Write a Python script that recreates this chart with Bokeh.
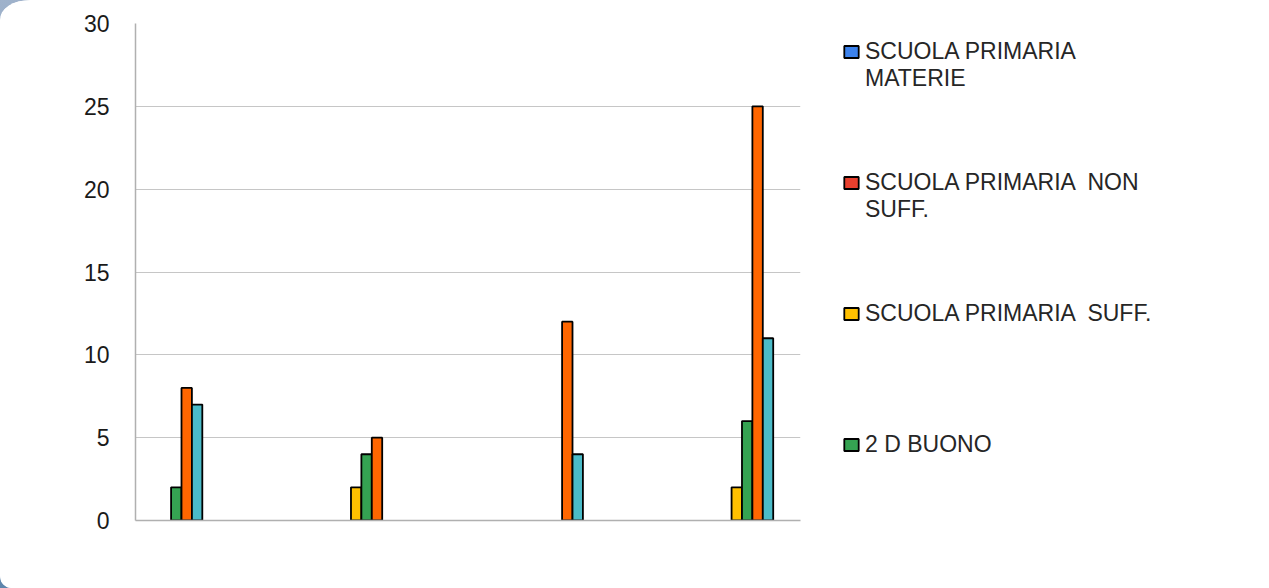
import math
from bokeh.plotting import figure
from bokeh.layouts import column
from bokeh.models import Legend, LegendItem, FixedTicker
from bokeh.embed import file_html
from bokeh.resources import INLINE

# ---- data ----
groups = [0, 1, 2, 3]
suff = [0, 2, 0, 2]          # yellow bars
buono = [2, 4, 0, 6]         # green bars
serie5 = [8, 5, 12, 25]      # orange bars
serie6 = [7, 0, 4, 11]       # cyan bars
bar_series = [suff, buono, serie5, serie6]
bar_colors = ["#FFC000", "#35A352", "#FF6600", "#4BBBC8"]

legend_labels = ["SCUOLA PRIMARIA\nMATERIE", "SCUOLA PRIMARIA  NON\nSUFF.",
                 "SCUOLA PRIMARIA  SUFF.", "2 D BUONO"]
legend_colors = ["#3C82EC", "#E8402E", "#FFC000", "#35A352"]
y_ticks = [0, 5, 10, 15, 20, 25, 30]

FONT = "Liberation Sans"
BAR_W = 0.0547
offsets = [-1.5, -0.5, 0.5, 1.5]

p = figure(width=1269, height=588, frame_width=665, frame_height=497,
           x_range=(-0.2417, 3.2528), y_range=(0, 30),
           output_backend="svg", toolbar_location=None,
           min_border_left=135, min_border_right=469,
           min_border_top=23, min_border_bottom=68,
           styles={"border-radius": "30px 30px 14px 12px / 20px 16px 16px 12px",
                   "overflow": "hidden", "background-color": "white"})
p.outline_line_color = None
p.background_fill_color = "white"
p.border_fill_color = "white"

p.xgrid.visible = False
p.ygrid.grid_line_color = "#C6C6C6"
p.ygrid.grid_line_width = 1
p.yaxis.ticker = FixedTicker(ticks=y_ticks)
p.yaxis.major_tick_out = 0
p.yaxis.major_tick_in = 0
p.yaxis.minor_tick_out = 0
p.yaxis.minor_tick_in = 0
p.yaxis.axis_line_color = "#B0B0B0"
p.yaxis.axis_line_width = 1.5
p.yaxis.major_label_standoff = 26
p.yaxis.major_label_text_font = FONT
p.yaxis.major_label_text_font_size = "23px"
p.yaxis.major_label_text_color = "#1A1A1A"

p.xaxis.ticker = FixedTicker(ticks=[])
p.xaxis.major_tick_out = 0
p.xaxis.minor_tick_out = 0
p.xaxis.axis_line_color = "#B0B0B0"
p.xaxis.axis_line_width = 1.5
p.xaxis.major_label_text_font_size = "0px"

for vals, col, off in zip(bar_series, bar_colors, offsets):
    xs = [g + off * BAR_W for g, v in zip(groups, vals) if v > 0]
    tops = [v for v in vals if v > 0]
    p.vbar(x=xs, top=tops, width=BAR_W, bottom=0, fill_color=col,
           line_color="black", line_width=1.8)

# legend: the marker is centred on the label block, so each label is padded
# to three lines with its first text line in the middle
items = []
for lab, col in zip(legend_labels, legend_colors):
    r = p.vbar(x=[math.nan], top=[math.nan], width=BAR_W, fill_color=col,
               line_color="black", line_width=1.8)
    parts = lab.split("\n")
    if len(parts) == 1:
        parts.append(" ")
    items.append(LegendItem(label="\n".join([" "] + parts), renderers=[r]))

leg = Legend(items=items, location=(42, 35), padding=0, margin=0,
             border_line_color=None, background_fill_color=None,
             glyph_width=18, glyph_height=15, label_standoff=5,
             label_height=26, spacing=50,
             label_text_font=FONT, label_text_font_size="23px",
             label_text_color="#262626", label_text_line_height=1.05)
p.add_layout(leg, "right")

page = column(p, styles={"background": "linear-gradient(160deg, #9FB2CB, #1F5A8E)"})

open("out.html", "w").write(file_html(page, INLINE))
